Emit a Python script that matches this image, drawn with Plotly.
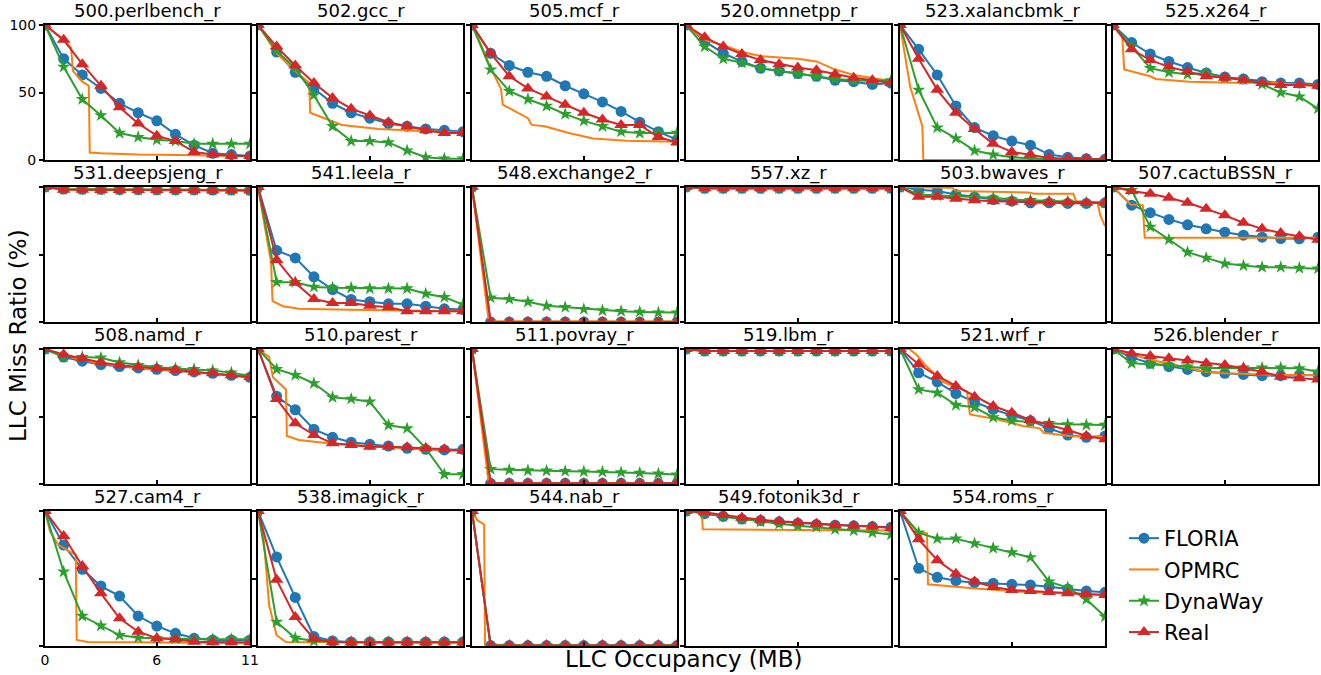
import plotly.graph_objects as go

# ---------------- data ----------------
X_MB = [0, 1, 2, 3, 4, 5, 6, 7, 8, 9, 10, 11]

BENCHMARKS = [
    "500.perlbench_r", "502.gcc_r", "505.mcf_r", "520.omnetpp_r", "523.xalancbmk_r", "525.x264_r",
    "531.deepsjeng_r", "541.leela_r", "548.exchange2_r", "557.xz_r", "503.bwaves_r", "507.cactuBSSN_r",
    "508.namd_r", "510.parest_r", "511.povray_r", "519.lbm_r", "521.wrf_r", "526.blender_r",
    "527.cam4_r", "538.imagick_r", "544.nab_r", "549.fotonik3d_r", "554.roms_r",
]

FLORIA = {
    "500.perlbench_r": [100, 75, 63, 53, 42, 35, 29, 19, 11, 5, 4, 3],
    "502.gcc_r": [100, 80, 65, 53, 42, 35, 31, 27, 25, 23, 22, 21],
    "505.mcf_r": [100, 79, 70, 65, 62, 55, 49, 43, 36, 28, 21, 15],
    "520.omnetpp_r": [100, 88, 79, 73, 68, 66, 64, 62, 59, 58, 56, 57],
    "523.xalancbmk_r": [100, 82, 63, 40, 24, 18, 14, 11, 4, 2, 1, 0.5],
    "525.x264_r": [100, 87, 78.5, 73, 68.5, 64.5, 61.5, 60, 58, 57, 57, 56],
    "531.deepsjeng_r": [100, 98.5, 98.3, 98.2, 98, 98, 97.9, 97.8, 97.8, 97.7, 97.7, 97.6],
    "541.leela_r": [100, 53, 47.5, 33.5, 24, 16.7, 15, 13.5, 13.5, 11.7, 9.8, 9.3],
    "548.exchange2_r": [100, 0, 0, 0, 0, 0, 0, 0, 0, 0, 0, 0],
    "557.xz_r": [100, 99, 99, 99, 99, 99, 99, 99, 99, 99, 99, 99],
    "503.bwaves_r": [100, 98, 97, 94.5, 92.7, 90.7, 89.5, 88.3, 88.3, 87.8, 87.8, 88.3],
    "507.cactuBSSN_r": [100, 86.5, 81, 76, 72, 69, 66.5, 64.3, 62.8, 61.8, 61.6, 62.8],
    "508.namd_r": [100, 94, 91, 88.5, 87, 86, 85, 84, 83, 82, 80.5, 79],
    "510.parest_r": [100, 65, 55, 40.5, 34.6, 31, 29.4, 28.1, 26.4, 25.7, 25.2, 25.7],
    "511.povray_r": [100, 0.5, 0.5, 0.5, 0.5, 0.5, 0.5, 0.5, 0.5, 0.5, 0.5, 0.5],
    "519.lbm_r": [100, 98.5, 98.5, 98.5, 98.5, 98.5, 98.5, 98.5, 98.5, 98.5, 98.5, 98.5],
    "521.wrf_r": [100, 82.4, 75.7, 67, 60.8, 55.2, 51, 46.9, 41.2, 36.3, 34.6, 35.5],
    "526.blender_r": [100, 93.8, 89.4, 86.9, 84.9, 83.2, 82, 81.2, 80.2, 80.2, 80.7, 80.7],
    "527.cam4_r": [100, 74.8, 56.8, 44.4, 37, 22.2, 14.8, 9.4, 5.7, 4.4, 4.4, 4.4],
    "538.imagick_r": [100, 66, 36, 7, 3.7, 3, 3, 3, 3, 3, 3, 3],
    "544.nab_r": [100, 0.3, 0.3, 0.3, 0.3, 0.3, 0.3, 0.3, 0.3, 0.3, 0.3, 0.3],
    "549.fotonik3d_r": [100, 98, 96, 94, 93, 92, 91, 90, 89.5, 89, 88.5, 88],
    "554.roms_r": [100, 57.5, 50.9, 48.4, 46.9, 46.4, 45.7, 45.2, 43.9, 42.2, 40.7, 39.8],
}

DYNAWAY = {
    "500.perlbench_r": [100, 69, 45, 33, 20, 17, 15, 14, 12, 12, 12, 12],
    "502.gcc_r": [100, 81, 68, 48, 25, 14, 14, 13, 7, 2, 1, 1],
    "505.mcf_r": [100, 67, 51, 45, 40, 34, 29, 25, 21, 20, 20, 20],
    "520.omnetpp_r": [100, 84, 75, 72, 68, 66, 64, 62, 60, 59, 58.5, 59],
    "523.xalancbmk_r": [100, 52, 24, 16, 7, 4, 2, 1, 0.5, 0.3, 0.2, 0.1],
    "525.x264_r": [100, 84, 68, 65, 63.5, 64.5, 61, 59.5, 56, 50, 47, 38],
    "531.deepsjeng_r": [100, 98.3, 98.2, 98, 98, 97.9, 97.8, 97.8, 97.7, 97.7, 97.6, 97.6],
    "541.leela_r": [100, 29.5, 29.5, 26, 25.3, 25.3, 24.8, 24.8, 24.8, 21, 18.4, 13],
    "548.exchange2_r": [100, 18, 17, 15, 12, 11, 9.5, 8.5, 8, 7.5, 7, 7],
    "557.xz_r": [100, 99, 99, 99, 99, 99, 99, 99, 99, 99, 99, 99],
    "503.bwaves_r": [100, 94.5, 93.7, 93.2, 92.7, 92, 90.7, 90.2, 89.5, 89, 88.3, 88.3],
    "507.cactuBSSN_r": [100, 97.6, 70.5, 61, 51.7, 47.5, 43.3, 41.8, 40.6, 40.6, 40, 39.5],
    "508.namd_r": [100, 94, 94, 93.5, 90, 88, 86.5, 85.5, 85, 84, 82.5, 80],
    "510.parest_r": [100, 85, 80.7, 74.6, 64.2, 63, 61, 43.7, 41.2, 26.4, 7.2, 7.2],
    "511.povray_r": [100, 11, 10.5, 10, 9.8, 9.5, 9.2, 9, 8.6, 8.2, 7.6, 7],
    "519.lbm_r": [100, 98.5, 98.5, 98.5, 98.5, 98.5, 98.5, 98.5, 98.5, 98.5, 98.5, 98.5],
    "521.wrf_r": [100, 70.1, 67.6, 58.5, 56.8, 49.4, 46.9, 46.2, 45, 44.2, 43.7, 43.7],
    "526.blender_r": [100, 89.4, 88.7, 88.2, 86.9, 85.7, 86.2, 86.2, 86.2, 86.2, 85.7, 83.2],
    "527.cam4_r": [100, 55, 22.2, 15, 8.1, 6.2, 5.7, 5.4, 5, 5, 5, 5],
    "538.imagick_r": [100, 17.8, 5.9, 3.7, 3.2, 3, 3, 3, 3, 3, 3, 3],
    "544.nab_r": [100, 0.3, 0.3, 0.3, 0.3, 0.3, 0.3, 0.3, 0.3, 0.3, 0.3, 0.3],
    "549.fotonik3d_r": [100, 98.5, 96, 94, 92, 90.5, 89, 88, 86.5, 85.5, 84, 82.5],
    "554.roms_r": [100, 84, 79.5, 79.5, 76, 72.6, 69.3, 65.6, 47.7, 43.3, 34.6, 21.7],
}

REAL = {
    "500.perlbench_r": [100, 89, 71, 55, 39, 27, 18, 14, 6, 4, 3, 3],
    "502.gcc_r": [100, 84, 70, 57, 46, 38, 33, 28, 25, 22, 20, 20],
    "505.mcf_r": [100, 79, 62, 53, 47, 41, 35, 30, 26, 26, 17, 13],
    "520.omnetpp_r": [100, 91, 84, 78.5, 74, 71, 68.5, 66.5, 63.5, 61, 59, 57],
    "523.xalancbmk_r": [100, 75, 52, 35, 23, 12, 6, 4, 1.5, 1, 1, 0.5],
    "525.x264_r": [100, 82, 74, 69, 65.5, 62, 61, 59.5, 57, 55.5, 55.5, 55],
    "531.deepsjeng_r": [100, 98, 97.9, 97.8, 97.8, 97.7, 97.7, 97.6, 97.6, 97.5, 97.5, 97.5],
    "541.leela_r": [100, 46, 29, 17, 14, 14, 12, 11, 8, 8, 8, 8],
    "548.exchange2_r": [100, 0, 0, 0, 0, 0, 0, 0, 0, 0, 0, 0],
    "557.xz_r": [100, 99, 99, 99, 99, 99, 99, 99, 99, 99, 99, 99],
    "503.bwaves_r": [100, 92.7, 92.7, 91.3, 90.2, 89.5, 89, 89, 88.7, 88.7, 88.3, 88.3],
    "507.cactuBSSN_r": [100, 97, 95, 92, 88.3, 83.9, 79, 73.5, 69, 66, 63.6, 61],
    "508.namd_r": [100, 96, 93, 90, 88, 86.5, 85.5, 84.5, 83, 82, 80.5, 79],
    "510.parest_r": [100, 63, 45, 36.3, 30.1, 28.9, 27.6, 27.6, 27.2, 26.4, 25.7, 24.7],
    "511.povray_r": [100, 0.5, 0.5, 0.5, 0.5, 0.5, 0.5, 0.5, 0.5, 0.5, 0.5, 0.5],
    "519.lbm_r": [100, 98.5, 98.5, 98.5, 98.5, 98.5, 98.5, 98.5, 98.5, 98.5, 98.5, 98.5],
    "521.wrf_r": [100, 88.7, 80, 72.6, 64.7, 57.8, 52.8, 47.4, 43.7, 40, 35.5, 33.1],
    "526.blender_r": [100, 96.8, 94.8, 93.1, 91.4, 89.4, 88.2, 85.7, 83.2, 79.5, 78.3, 77.5],
    "527.cam4_r": [100, 81.5, 59.3, 39, 20.5, 10.6, 5.7, 5, 3.2, 2.7, 2.7, 2.7],
    "538.imagick_r": [100, 49, 21.5, 5.2, 3, 2.5, 2.5, 2.5, 2.5, 2.5, 2.5, 2.5],
    "544.nab_r": [100, 0.3, 0.3, 0.3, 0.3, 0.3, 0.3, 0.3, 0.3, 0.3, 0.3, 0.3],
    "549.fotonik3d_r": [100, 99, 97, 95, 93.5, 92.5, 91.5, 90.5, 89.5, 89, 88.5, 87.5],
    "554.roms_r": [100, 79, 63.5, 53.6, 47.7, 43.7, 41.5, 40.7, 40, 39, 38.3, 37.8],
}

OPMRC_X = {
    "500.perlbench_r": [0, 1, 1.4, 1.5, 2.0, 2.35, 2.4, 3, 5, 8, 11],
    "502.gcc_r": [0, 1, 2, 2.75, 2.8, 4.5, 6.5, 8.5, 11],
    "505.mcf_r": [0, 0.5, 1, 1.55, 1.65, 2.2, 3.0, 3.2, 3.9, 5.2, 6.5, 8.3, 11],
    "520.omnetpp_r": [0, 1, 2, 3, 4, 5, 6, 7, 8, 9, 10, 11],
    "523.xalancbmk_r": [0, 0.35, 0.55, 1.2, 1.25, 11],
    "525.x264_r": [0, 0.5, 0.6, 2.0, 2.3, 4.1, 6.5, 8.6, 11],
    "531.deepsjeng_r": [0, 1, 2, 3, 4, 5, 6, 7, 8, 9, 10, 11],
    "541.leela_r": [0, 0.7, 0.78, 1.35, 2.2, 4.9, 11],
    "548.exchange2_r": [0, 0.9, 11],
    "557.xz_r": [0, 1, 11],
    "503.bwaves_r": [0, 2.8, 3.0, 6.9, 7.2, 9.3, 9.45, 10.6, 10.75, 11],
    "507.cactuBSSN_r": [0, 0.95, 1.6, 1.7, 11],
    "508.namd_r": [0, 1, 2, 3, 4, 5, 6, 7, 8, 9, 10, 11],
    "510.parest_r": [0, 0.6, 0.8, 1.5, 1.55, 2.2, 3.9, 6.5, 11],
    "511.povray_r": [0, 0.9, 11],
    "519.lbm_r": [0, 1, 11],
    "521.wrf_r": [0, 0.5, 0.9, 1.3, 2.3, 3.6, 3.75, 5.2, 6.6, 7.5, 7.7, 9.1, 11],
    "526.blender_r": [0, 1, 2, 3, 4, 5, 6, 7, 8, 9, 10, 11],
    "527.cam4_r": [0, 0.27, 0.7, 1.65, 1.7, 2.3, 5, 11],
    "538.imagick_r": [0, 0.3, 0.6, 1.0, 1.5, 11],
    "544.nab_r": [0, 0.3, 0.65, 0.7, 1.0, 11],
    "549.fotonik3d_r": [0, 0.85, 0.9, 3, 6, 11],
    "554.roms_r": [0, 0.9, 1.45, 1.5, 3.9, 6.6, 11],
}

OPMRC_Y = {
    "500.perlbench_r": [100, 89, 83, 66, 58, 55, 5.5, 5, 4, 3.5, 3],
    "502.gcc_r": [100, 79, 66, 57, 35, 26, 23, 21.5, 20],
    "505.mcf_r": [100, 85, 68, 53, 41, 37, 31, 26, 25, 20, 16, 14.3, 13.5],
    "520.omnetpp_r": [100, 89, 85, 80, 77, 76, 75, 73, 67, 63, 60.5, 58.5],
    "523.xalancbmk_r": [100, 69, 54, 25, 0, 0],
    "525.x264_r": [100, 91, 67, 62, 60, 58, 57.3, 57, 55],
    "531.deepsjeng_r": [100, 98.5, 98.3, 98.2, 98.1, 98, 97.9, 97.9, 97.8, 97.8, 97.7, 97.7],
    "541.leela_r": [100, 44, 15.5, 11.7, 9.8, 9, 8],
    "548.exchange2_r": [100, 0.5, 0.5],
    "557.xz_r": [100, 99, 99],
    "503.bwaves_r": [100, 99.5, 97, 96, 95, 95, 89.5, 88.3, 79, 71],
    "507.cactuBSSN_r": [100, 87, 86.5, 62.5, 62.5],
    "508.namd_r": [100, 95, 92, 89, 87.5, 86, 85, 84, 83, 82, 80.5, 79],
    "510.parest_r": [100, 94, 79, 70, 35.5, 32.6, 30, 27.6, 24.5],
    "511.povray_r": [100, 0.5, 0.5],
    "519.lbm_r": [100, 98.5, 98.5],
    "521.wrf_r": [100, 100, 95.5, 89, 75.7, 68.4, 51.5, 48, 43, 41.2, 38, 35.5, 35],
    "526.blender_r": [100, 96, 92, 89, 86, 83, 82, 81.5, 81, 80.8, 80.7, 80.5],
    "527.cam4_r": [100, 85, 75, 67.5, 4.5, 3, 2.7, 2],
    "538.imagick_r": [100, 80, 30, 8, 3, 2.5],
    "544.nab_r": [100, 93, 90, 0.5, 0.3, 0.3],
    "549.fotonik3d_r": [100, 99, 86.5, 86.5, 86, 85.5],
    "554.roms_r": [100, 85, 83.5, 45.7, 42.7, 40.2, 37.8],
}

X_TICKS = [0, 6, 11]
Y_TICKS = [0, 50, 100]

# ---------------- layout geometry ----------------
W, H = 1321, 675
COL_PX = [(45, 250), (258, 463), (472, 677), (686, 891), (900, 1105), (1113, 1318)]
ROW_PX = [(25, 160), (187, 322), (349, 484), (511, 646)]

BLUE, ORANGE, GREEN, RED = "#1f77b4", "#ff7f0e", "#2ca02c", "#d62728"
FONT = "DejaVu Sans"

fig = go.Figure()
layout = {}
annotations = []

for i, name in enumerate(BENCHMARKS):
    r, c = divmod(i, 6)
    n = i + 1
    xa = "x" if n == 1 else f"x{n}"
    ya = "y" if n == 1 else f"y{n}"
    x0, x1 = COL_PX[c]
    y0, y1 = ROW_PX[r]
    show = (i == 0)

    fig.add_trace(go.Scatter(
        x=X_MB, y=FLORIA[name], mode="lines+markers", name="FLORIA",
        line=dict(color=BLUE, width=2), marker=dict(symbol="circle", size=11, color=BLUE),
        xaxis=xa, yaxis=ya, showlegend=show, legendgroup="FLORIA"))
    fig.add_trace(go.Scatter(
        x=OPMRC_X[name], y=OPMRC_Y[name], mode="lines", name="OPMRC",
        line=dict(color=ORANGE, width=2),
        xaxis=xa, yaxis=ya, showlegend=show, legendgroup="OPMRC"))
    fig.add_trace(go.Scatter(
        x=X_MB, y=DYNAWAY[name], mode="lines+markers", name="DynaWay",
        line=dict(color=GREEN, width=2), marker=dict(symbol="star", size=10, color=GREEN),
        xaxis=xa, yaxis=ya, showlegend=show, legendgroup="DynaWay"))
    fig.add_trace(go.Scatter(
        x=X_MB, y=REAL[name], mode="lines+markers", name="Real",
        line=dict(color=RED, width=2), marker=dict(symbol="triangle-up", size=12, color=RED),
        xaxis=xa, yaxis=ya, showlegend=show, legendgroup="Real"))

    key_x = "xaxis" if n == 1 else f"xaxis{n}"
    key_y = "yaxis" if n == 1 else f"yaxis{n}"
    layout[key_x] = dict(
        domain=[x0 / W, x1 / W], anchor=ya, range=[0, 11], tickvals=X_TICKS,
        showticklabels=(name == "527.cam4_r"), ticks="inside", ticklen=4, tickwidth=1.5,
        tickcolor="black", showline=True, mirror=True, linecolor="black", linewidth=2,
        showgrid=False, zeroline=False, automargin=False,
        tickfont=dict(size=14, color="black", family=FONT))
    layout[key_y] = dict(
        domain=[1 - y1 / H, 1 - y0 / H], anchor=xa, range=[0, 100], tickvals=Y_TICKS,
        showticklabels=show, ticks="outside", ticklen=4, tickwidth=1.5,
        tickcolor="black", showline=True, mirror=True, linecolor="black", linewidth=2,
        showgrid=False, zeroline=False, automargin=False,
        tickfont=dict(size=14, color="black", family=FONT))

    annotations.append(dict(
        text=name, x=(x0 + x1) / 2 / W, y=1 - y0 / H, xref="paper", yref="paper",
        xanchor="center", yanchor="bottom", showarrow=False, yshift=1,
        font=dict(size=18, color="black", family=FONT)))

annotations.append(dict(
    text="LLC Miss Ratio (%)", x=18 / W, y=1 - 336 / H, xref="paper", yref="paper",
    xanchor="center", yanchor="middle", textangle=-90, showarrow=False,
    font=dict(size=23, color="black", family=FONT)))
annotations.append(dict(
    text="LLC Occupancy (MB)", x=683 / W, y=1 - 659 / H, xref="paper", yref="paper",
    xanchor="center", yanchor="middle", showarrow=False,
    font=dict(size=23, color="black", family=FONT)))

fig.update_layout(
    template="none",
    width=W, height=H, margin=dict(l=0, r=0, t=0, b=0, pad=0), autosize=False,
    paper_bgcolor="white", plot_bgcolor="white",
    font=dict(family=FONT, color="black"),
    annotations=annotations,
    legend=dict(x=1124 / W, y=1 - 518 / H, xanchor="left", yanchor="top",
                font=dict(size=21, color="black", family=FONT),
                bgcolor="rgba(0,0,0,0)", borderwidth=0,
                tracegroupgap=1, traceorder="grouped"),
    **layout,
)

fig.write_html("out.html")
